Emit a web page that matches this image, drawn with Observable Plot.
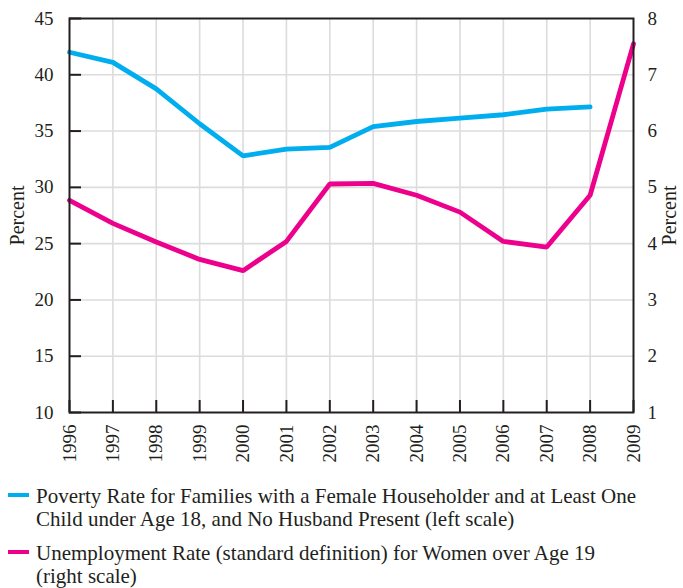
<!DOCTYPE html>
<html>
<head>
<meta charset="utf-8">
<script src="https://cdn.jsdelivr.net/npm/d3@7"></script>
<script src="https://cdn.jsdelivr.net/npm/@observablehq/plot@0.6"></script>
<style>
  body { margin: 0; background: #fff; font-family: "Liberation Serif", serif; color: #231f20; overflow: hidden; }
  #chart svg { display: block; }
  #legend { position: relative; width: 683px; font-size: 21px; line-height: 23px; margin-top: 10px; }
  .item { position: relative; padding-left: 36px; margin-bottom: 11px; }
  .sw { position: absolute; left: 8px; top: 8px; width: 21px; height: 4px; }
</style>
</head>
<body>
<div id="chart"></div>
<div id="legend"></div>
<script>
const years = [1996,1997,1998,1999,2000,2001,2002,2003,2004,2005,2006,2007,2008,2009];
const povertyYears = [1996,1997,1998,1999,2000,2001,2002,2003,2004,2005,2006,2007,2008];
const poverty = [42.0,41.1,38.75,35.65,32.8,33.4,33.55,35.4,35.85,36.15,36.45,36.95,37.15];
const unemployment = [4.77,4.36,4.03,3.72,3.52,4.04,5.06,5.07,4.86,4.56,4.04,3.94,4.86,7.55];
const leftTicks = [10,15,20,25,30,35,40,45];
const rightTicks = [1,2,3,4,5,6,7,8];
const blue = "#00aeef", pink = "#ec008c";
const legendLabels = [
  ["Poverty Rate for Families with a Female Householder and at Least One", "Child under Age 18, and No Husband Present (left scale)"],
  ["Unemployment Rate (standard definition) for Women over Age 19", "(right scale)"]
];

// right scale (1–8) mapped onto left scale (10–45)
const toLeft = v => 10 + (v - 1) * 5;
const fromLeft = v => (v - 10) / 5 + 1;

const povData = povertyYears.map((y, i) => ({year: y, value: poverty[i]}));
const unData = years.map((y, i) => ({year: y, value: toLeft(unemployment[i])}));

const W = 683, H = 475, mL = 69, mR = 50, mT = 18, mB = 63;
const plotH = H - mT - mB, plotW = W - mL - mR;

const chart = Plot.plot({
  width: W, height: H,
  marginLeft: mL, marginRight: mR, marginTop: mT, marginBottom: mB,
  style: {fontFamily: "Liberation Serif, serif", fontSize: "19px", color: "#231f20", background: "#fff", overflow: "visible"},
  x: {domain: [1996, 2009]},
  y: {domain: [10, 45]},
  marks: [
    Plot.gridX(years.slice(1, -1), {stroke: "#dcdcdc", strokeOpacity: 1, strokeWidth: 1.6}),
    Plot.gridY(leftTicks.slice(1, -1), {stroke: "#dcdcdc", strokeOpacity: 1, strokeWidth: 1.6}),
    Plot.line(unData, {x: "year", y: "value", stroke: pink, strokeWidth: 4.8, strokeLinejoin: "miter"}),
    Plot.line(povData, {x: "year", y: "value", stroke: blue, strokeWidth: 4.8, strokeLinejoin: "miter"}),
    Plot.tickX(years, {x: d => d, stroke: "#231f20", strokeWidth: 2, insetTop: plotH - 12}),
    Plot.tickY(leftTicks, {y: d => d, stroke: "#231f20", strokeWidth: 2, insetRight: plotW - 12}),
    Plot.frame({stroke: "#231f20", strokeWidth: 2}),
    Plot.axisX(years, {anchor: "bottom", tickSize: 0, tickPadding: 12, tickRotate: -90, tickFormat: d => String(d), label: null, fontSize: 19}),
    Plot.axisY(leftTicks, {anchor: "left", tickSize: 0, tickPadding: 16, label: null, fontSize: 19}),
    Plot.axisY(leftTicks, {anchor: "right", tickSize: 0, tickPadding: 14, tickFormat: d => String(fromLeft(d)), label: null, fontSize: 19}),
    Plot.text(["Percent"], {frameAnchor: "left", text: d => d, rotate: -90, dx: -52, textAnchor: "middle", fontSize: 20}),
    Plot.text(["Percent"], {frameAnchor: "right", text: d => d, rotate: -90, dx: 36, textAnchor: "middle", fontSize: 20})
  ]
});
document.getElementById("chart").appendChild(chart);

const legend = document.getElementById("legend");
[blue, pink].forEach((c, i) => {
  const div = document.createElement("div");
  div.className = "item";
  div.innerHTML = `<span class="sw" style="background:${c}"></span>${legendLabels[i].join("<br>")}`;
  legend.appendChild(div);
});
</script>
</body>
</html>
